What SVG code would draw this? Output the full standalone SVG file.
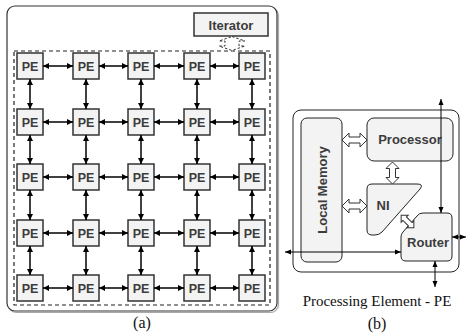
<svg xmlns="http://www.w3.org/2000/svg" width="466" height="335" viewBox="0 0 466 335">
<style>
.pe rect{fill:#f3f3f3;stroke:#333;stroke-width:1.5}
.lbl{font-family:"Liberation Sans",Arial,sans-serif;font-weight:bold;font-size:13px;fill:#3c3c3c;text-anchor:middle}
.pelbl{font-family:"Liberation Sans",Arial,sans-serif;font-weight:bold;font-size:12.5px;fill:#3c3c3c;text-anchor:middle}
.cap{font-family:"Liberation Serif","Times New Roman",serif;fill:#111;text-anchor:middle}
.box{fill:#f3f3f3;stroke:#222;stroke-width:1}
.grid line{stroke:#000;stroke-width:1.5;marker-start:url(#ah);marker-end:url(#ah)}
.thin{stroke:#000;stroke-width:1;marker-start:url(#ah2);marker-end:url(#ah2)}
.hollow{fill:#fff;stroke:#333;stroke-width:1}
</style>
<defs>
<marker id="ah" markerUnits="userSpaceOnUse" markerWidth="7" markerHeight="6" refX="6" refY="3" orient="auto-start-reverse"><path d="M0,0 L6,3 L0,6 Z" fill="#000"/></marker>
<marker id="ah2" markerUnits="userSpaceOnUse" markerWidth="7" markerHeight="6" refX="6" refY="3" orient="auto-start-reverse"><path d="M0,0.5 L6,3 L0,5.5 Z" fill="#000"/></marker>
</defs>

<g id="panel-a">
<rect x="8.5" y="7.5" width="270" height="305" rx="8" fill="none" stroke="#aaa" stroke-width="1.2"/>
<rect x="7" y="6" width="270" height="305" rx="8" fill="#fff" stroke="#333" stroke-width="1.2"/>
<rect x="14" y="51" width="256" height="254" fill="none" stroke="#222" stroke-width="1.2" stroke-dasharray="4,3"/>
</g>

<g id="iterator">
<rect x="194" y="13" width="74" height="23" fill="#f3f3f3" stroke="#333" stroke-width="1.5"/>
<text class="lbl" x="231" y="29.5">Iterator</text>
</g>

<g id="pe-grid">
<g id="pe-0-0" class="pe"><rect x="17" y="53" width="26" height="26"/><text class="pelbl" x="30" y="70.5">PE</text></g>
<g id="pe-0-1" class="pe"><rect x="73" y="53" width="26" height="26"/><text class="pelbl" x="86" y="70.5">PE</text></g>
<g id="pe-0-2" class="pe"><rect x="128" y="53" width="26" height="26"/><text class="pelbl" x="141" y="70.5">PE</text></g>
<g id="pe-0-3" class="pe"><rect x="184" y="53" width="26" height="26"/><text class="pelbl" x="197" y="70.5">PE</text></g>
<g id="pe-0-4" class="pe"><rect x="239" y="53" width="26" height="26"/><text class="pelbl" x="252" y="70.5">PE</text></g>

<g id="pe-1-0" class="pe"><rect x="17" y="109" width="26" height="26"/><text class="pelbl" x="30" y="126.5">PE</text></g>
<g id="pe-1-1" class="pe"><rect x="73" y="109" width="26" height="26"/><text class="pelbl" x="86" y="126.5">PE</text></g>
<g id="pe-1-2" class="pe"><rect x="128" y="109" width="26" height="26"/><text class="pelbl" x="141" y="126.5">PE</text></g>
<g id="pe-1-3" class="pe"><rect x="184" y="109" width="26" height="26"/><text class="pelbl" x="197" y="126.5">PE</text></g>
<g id="pe-1-4" class="pe"><rect x="239" y="109" width="26" height="26"/><text class="pelbl" x="252" y="126.5">PE</text></g>

<g id="pe-2-0" class="pe"><rect x="17" y="164" width="26" height="26"/><text class="pelbl" x="30" y="181.5">PE</text></g>
<g id="pe-2-1" class="pe"><rect x="73" y="164" width="26" height="26"/><text class="pelbl" x="86" y="181.5">PE</text></g>
<g id="pe-2-2" class="pe"><rect x="128" y="164" width="26" height="26"/><text class="pelbl" x="141" y="181.5">PE</text></g>
<g id="pe-2-3" class="pe"><rect x="184" y="164" width="26" height="26"/><text class="pelbl" x="197" y="181.5">PE</text></g>
<g id="pe-2-4" class="pe"><rect x="239" y="164" width="26" height="26"/><text class="pelbl" x="252" y="181.5">PE</text></g>

<g id="pe-3-0" class="pe"><rect x="17" y="220" width="26" height="26"/><text class="pelbl" x="30" y="237.5">PE</text></g>
<g id="pe-3-1" class="pe"><rect x="73" y="220" width="26" height="26"/><text class="pelbl" x="86" y="237.5">PE</text></g>
<g id="pe-3-2" class="pe"><rect x="128" y="220" width="26" height="26"/><text class="pelbl" x="141" y="237.5">PE</text></g>
<g id="pe-3-3" class="pe"><rect x="184" y="220" width="26" height="26"/><text class="pelbl" x="197" y="237.5">PE</text></g>
<g id="pe-3-4" class="pe"><rect x="239" y="220" width="26" height="26"/><text class="pelbl" x="252" y="237.5">PE</text></g>

<g id="pe-4-0" class="pe"><rect x="17" y="275" width="26" height="26"/><text class="pelbl" x="30" y="292.5">PE</text></g>
<g id="pe-4-1" class="pe"><rect x="73" y="275" width="26" height="26"/><text class="pelbl" x="86" y="292.5">PE</text></g>
<g id="pe-4-2" class="pe"><rect x="128" y="275" width="26" height="26"/><text class="pelbl" x="141" y="292.5">PE</text></g>
<g id="pe-4-3" class="pe"><rect x="184" y="275" width="26" height="26"/><text class="pelbl" x="197" y="292.5">PE</text></g>
<g id="pe-4-4" class="pe"><rect x="239" y="275" width="26" height="26"/><text class="pelbl" x="252" y="292.5">PE</text></g>
</g>

<g id="connectors-a" class="grid">
<path d="M232,36.5 L245,41 H239 V46 H245 L232,50.5 L219,46 H225 V41 H219 Z" fill="#fff" stroke="#333" stroke-width="1" stroke-dasharray="2.5,2"/>
<line x1="43" y1="66" x2="73" y2="66"/><line x1="99" y1="66" x2="128" y2="66"/><line x1="154" y1="66" x2="184" y2="66"/><line x1="210" y1="66" x2="239" y2="66"/>
<line x1="43" y1="122" x2="73" y2="122"/><line x1="99" y1="122" x2="128" y2="122"/><line x1="154" y1="122" x2="184" y2="122"/><line x1="210" y1="122" x2="239" y2="122"/>
<line x1="43" y1="177" x2="73" y2="177"/><line x1="99" y1="177" x2="128" y2="177"/><line x1="154" y1="177" x2="184" y2="177"/><line x1="210" y1="177" x2="239" y2="177"/>
<line x1="43" y1="233" x2="73" y2="233"/><line x1="99" y1="233" x2="128" y2="233"/><line x1="154" y1="233" x2="184" y2="233"/><line x1="210" y1="233" x2="239" y2="233"/>
<line x1="43" y1="288" x2="73" y2="288"/><line x1="99" y1="288" x2="128" y2="288"/><line x1="154" y1="288" x2="184" y2="288"/><line x1="210" y1="288" x2="239" y2="288"/>
<line x1="30" y1="79" x2="30" y2="109"/><line x1="86" y1="79" x2="86" y2="109"/><line x1="141" y1="79" x2="141" y2="109"/><line x1="197" y1="79" x2="197" y2="109"/><line x1="252" y1="79" x2="252" y2="109"/>
<line x1="30" y1="135" x2="30" y2="164"/><line x1="86" y1="135" x2="86" y2="164"/><line x1="141" y1="135" x2="141" y2="164"/><line x1="197" y1="135" x2="197" y2="164"/><line x1="252" y1="135" x2="252" y2="164"/>
<line x1="30" y1="190" x2="30" y2="220"/><line x1="86" y1="190" x2="86" y2="220"/><line x1="141" y1="190" x2="141" y2="220"/><line x1="197" y1="190" x2="197" y2="220"/><line x1="252" y1="190" x2="252" y2="220"/>
<line x1="30" y1="246" x2="30" y2="275"/><line x1="86" y1="246" x2="86" y2="275"/><line x1="141" y1="246" x2="141" y2="275"/><line x1="197" y1="246" x2="197" y2="275"/><line x1="252" y1="246" x2="252" y2="275"/>
</g>

<text class="cap" x="142" y="328" font-size="16">(a)</text>

<g id="pe-frame">
<rect x="293" y="110" width="166" height="162" rx="8" fill="#fff" stroke="#222" stroke-width="1"/>
</g>
<g id="local-memory">
<rect class="box" x="301" y="118" width="41" height="144" rx="6"/>
<text class="lbl" transform="translate(326.5,190) rotate(-90)" x="0" y="0">Local Memory</text>
</g>
<g id="processor">
<rect class="box" x="367" y="118" width="86" height="43" rx="7"/>
<text class="lbl" x="410" y="143.5">Processor</text>
</g>
<g id="ni">
<path class="box" d="M372,184 H417 Q424,184 420,189 L382,232 Q379,235 375,235 H372 Q367,235 367,230 V189 Q367,184 372,184 Z"/>
<text class="lbl" x="383" y="210">NI</text>
</g>
<g id="router">
<path class="box" d="M423,213 H447 Q452,213 452,218 V256 Q452,261 447,261 H406 Q401,261 401,256 V237 Q401,234 403,232 L417,216 Q419,213 423,213 Z"/>
<text class="lbl" x="428" y="246.5">Router</text>
</g>

<g id="connectors-b">
<path class="hollow" d="M342,140 L349,133 V137 H360 V133 L367,140 L360,147 V143 H349 V147 Z"/>
<path class="hollow" d="M342,206 L349,199 V203 H360 V199 L367,206 L360,213 V209 H349 V213 Z"/>
<path class="hollow" d="M392.5,162 L399,168.5 H395.5 V177.5 H399 L392.5,184 L386,177.5 H389.5 V168.5 H386 Z"/>
<path class="hollow" transform="translate(407.5,221.5) rotate(45)" d="M-9,0 L-4,-5 V-2.5 H4 V-5 L9,0 L4,5 V2.5 H-4 V5 Z"/>
<line class="thin" x1="441" y1="99" x2="441" y2="213"/>
<line class="thin" x1="466" y1="237" x2="452" y2="237"/>
<line class="thin" x1="285" y1="252" x2="401" y2="252"/>
<line class="thin" x1="435" y1="261" x2="435" y2="287"/>
</g>

<text class="cap" x="377" y="306" font-size="15">Processing Element - PE</text>
<text class="cap" x="377" y="329" font-size="16">(b)</text>
</svg>
